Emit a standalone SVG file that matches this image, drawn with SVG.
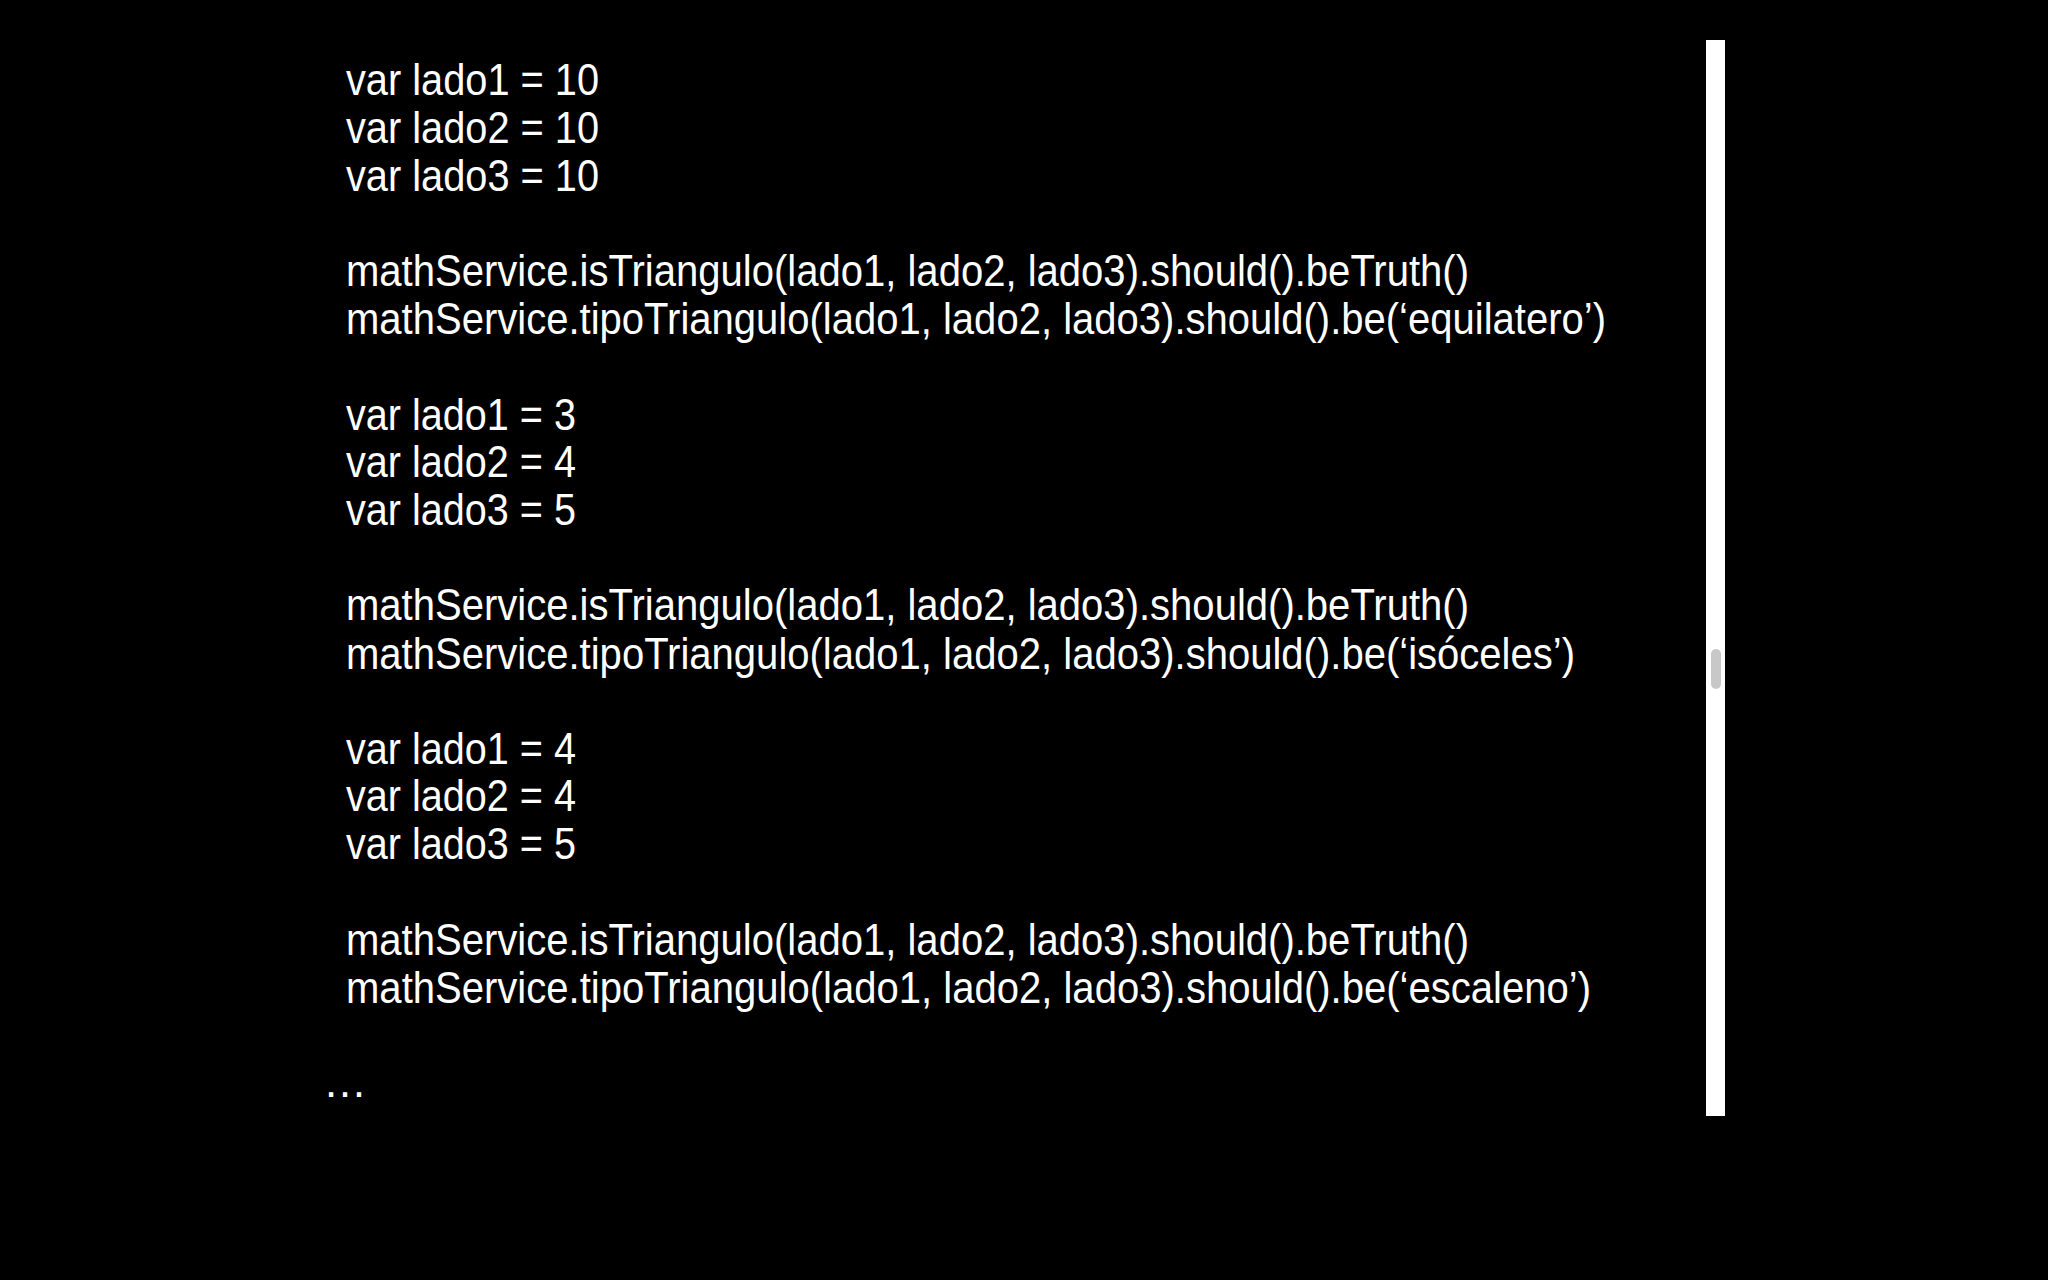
<svg xmlns="http://www.w3.org/2000/svg" width="2048" height="1280" viewBox="0 0 2048 1280">
<style>
text{font-family:"Liberation Sans",Arial,sans-serif;font-size:44px;fill:#fff}
</style>
<rect width="2048" height="1280" fill="#000"/>
<g id="code" lengthAdjust="spacingAndGlyphs">
<text x="346" y="95" textLength="253" lengthAdjust="spacingAndGlyphs">var lado1 = 10</text>
<text x="346" y="143" textLength="253" lengthAdjust="spacingAndGlyphs">var lado2 = 10</text>
<text x="346" y="191" textLength="253" lengthAdjust="spacingAndGlyphs">var lado3 = 10</text>
<text x="346" y="286" textLength="1123" lengthAdjust="spacingAndGlyphs">mathService.isTriangulo(lado1, lado2, lado3).should().beTruth()</text>
<text x="346" y="334" textLength="1260" lengthAdjust="spacingAndGlyphs">mathService.tipoTriangulo(lado1, lado2, lado3).should().be(‘equilatero’)</text>
<text x="346" y="430" textLength="230" lengthAdjust="spacingAndGlyphs">var lado1 = 3</text>
<text x="346" y="477" textLength="230" lengthAdjust="spacingAndGlyphs">var lado2 = 4</text>
<text x="346" y="525" textLength="230" lengthAdjust="spacingAndGlyphs">var lado3 = 5</text>
<text x="346" y="620" textLength="1123" lengthAdjust="spacingAndGlyphs">mathService.isTriangulo(lado1, lado2, lado3).should().beTruth()</text>
<text x="346" y="669" textLength="1229" lengthAdjust="spacingAndGlyphs">mathService.tipoTriangulo(lado1, lado2, lado3).should().be(‘isóceles’)</text>
<text x="346" y="764" textLength="230" lengthAdjust="spacingAndGlyphs">var lado1 = 4</text>
<text x="346" y="811" textLength="230" lengthAdjust="spacingAndGlyphs">var lado2 = 4</text>
<text x="346" y="859" textLength="230" lengthAdjust="spacingAndGlyphs">var lado3 = 5</text>
<text x="346" y="955" textLength="1123" lengthAdjust="spacingAndGlyphs">mathService.isTriangulo(lado1, lado2, lado3).should().beTruth()</text>
<text x="346" y="1003" textLength="1245" lengthAdjust="spacingAndGlyphs">mathService.tipoTriangulo(lado1, lado2, lado3).should().be(‘escaleno’)</text>
<text x="323" y="1097">…</text>
</g>
<g id="scrollbar">
<rect x="1706" y="40" width="19" height="1076" fill="#fff"/>
<rect x="1711" y="649" width="10" height="40" rx="5" fill="#c8c8c8"/>
</g>
</svg>
